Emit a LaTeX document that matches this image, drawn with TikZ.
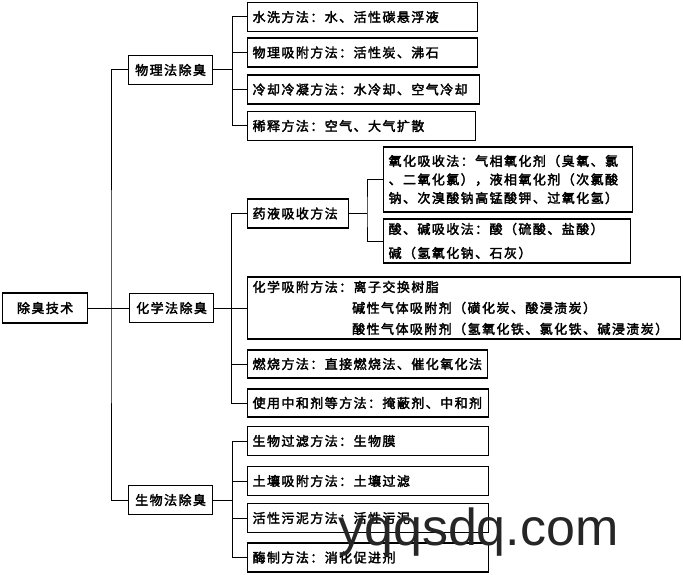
\documentclass[tikz,border=0pt]{standalone}
\usepackage{fontspec}
\setmainfont{Liberation Sans}
\newfontfamily\cjk{Noto Sans CJK SC}[LetterSpace=11, FakeBold=2.5]
\usepackage{tikz}

\begin{document}
\begin{tikzpicture}[x=1pt, y=-1pt,
        box/.style={draw, line width=1.2pt, inner xsep=5pt, inner ysep=0pt, anchor=west,
            minimum height=29pt, align=left, font=\cjk\fontsize{13}{18}\selectfont},
        link/.style={draw, line width=1pt}
    ]
    \useasboundingbox (0,0) rectangle (683,575);

    % Root and the three main methods
    \node[box, minimum width=85pt, minimum height=30pt, align=center] (root) at (2,308) {除臭技术};
    \node[box, minimum width=84pt, align=center] (phys) at (128,70) {物理法除臭};
    \node[box, minimum width=84pt, align=center] (chem) at (129,308) {化学法除臭};
    \node[box, minimum width=84pt, align=center] (bio) at (128,500) {生物法除臭};

    \coordinate (trunk) at (111,308);
    \draw[link] (root.east) -- (chem.west);
    \draw[link] (phys.west) -| (trunk) |- (bio.west);

    % Physical methods
    \node[box, text width=220pt] (water) at (247,17) {水洗方法：水、活性碳悬浮液};
    \node[box, text width=220pt] (padsorb) at (247,52.5) {物理吸附方法：活性炭、沸石};
    \node[box, text width=222pt] (cool) at (247,89.5) {冷却冷凝方法：水冷却、空气冷却};
    \node[box, text width=218pt] (dilute) at (247,126) {稀释方法：空气、大气扩散};

    \coordinate (pbr) at (232,70);
    \draw[link] (phys.east) -- (pbr);
    \draw[link] (water.west -| pbr) -- (dilute.west -| pbr);
    \foreach \leaf in {water, padsorb, cool, dilute}
        \draw[link] (\leaf.west) -- (\leaf.west -| pbr);

    % Chemical methods
    \node[box, text width=91pt] (liquid) at (247,213.5) {药液吸收方法};
    \node[box, text width=239pt, minimum height=65pt, font=\cjk\fontsize{13}{18.5}\selectfont] (oxid) at (383,179.5)
        {氧化吸收法：气相氧化剂（臭氧、氯\\、二氧化氯），液相氧化剂（次氯酸\\钠、次溴酸钠高锰酸钾、过氧化氢）};
    \node[box, text width=237pt, minimum height=44pt, font=\cjk\fontsize{13}{24}\selectfont] (acid) at (383,241)
        {酸、碱吸收法：酸（硫酸、盐酸）\\碱（氢氧化钠、石灰）};
    \node[box, text width=423pt, minimum height=62pt, font=\cjk\fontsize{13}{21}\selectfont] (cadsorb) at (247,308)
        {化学吸附方法：离子交换树脂\\\hphantom{化学吸附方法：}碱性气体吸附剂（磺化炭、酸浸渍炭）\\\hphantom{化学吸附方法：}酸性气体吸附剂（氢氧化铁、氯化铁、碱浸渍炭）};
    \node[box, text width=230pt, minimum height=28pt] (burn) at (247,364) {燃烧方法：直接燃烧法、催化氧化法};
    \node[box, text width=231pt, minimum height=28pt] (neutral) at (247,403) {使用中和剂等方法：掩蔽剂、中和剂};

    \coordinate (cbr) at (231,308);
    \coordinate (lbr) at (367,213.5);
    \draw[link] (chem.east) -- (cadsorb.west);
    \draw[link] (liquid.west -| cbr) -- (neutral.west -| cbr);
    \foreach \leaf in {liquid, burn, neutral}
        \draw[link] (\leaf.west) -- (\leaf.west -| cbr);
    \draw[link] (liquid.east) -- (lbr);
    \draw[link] (oxid.west) -| (lbr) |- (acid.west);

    % Biological methods
    \node[box, text width=231pt] (bfilter) at (247,441) {生物过滤方法：生物膜};
    \node[box, text width=231pt] (soil) at (247,481) {土壤吸附方法：土壤过滤};
    \node[box, text width=231pt] (sludge) at (247,518) {活性污泥方法：活性污泥};
    \node[box, text width=231pt] (enzyme) at (247,557.5) {酶制方法：消化促进剂};

    \coordinate (bbr) at (232,500);
    \draw[link] (bio.east) -- (bbr);
    \draw[link] (bfilter.west -| bbr) -- (enzyme.west -| bbr);
    \foreach \leaf in {bfilter, soil, sludge, enzyme}
        \draw[link] (\leaf.west) -- (\leaf.west -| bbr);

    % Overprinted site mark
    \node[anchor=base west, inner sep=0pt, font=\fontsize{52}{52}\selectfont, text=black!85] (mark) at (338,545) {yqqsdq.com};
\end{tikzpicture}
\end{document}
